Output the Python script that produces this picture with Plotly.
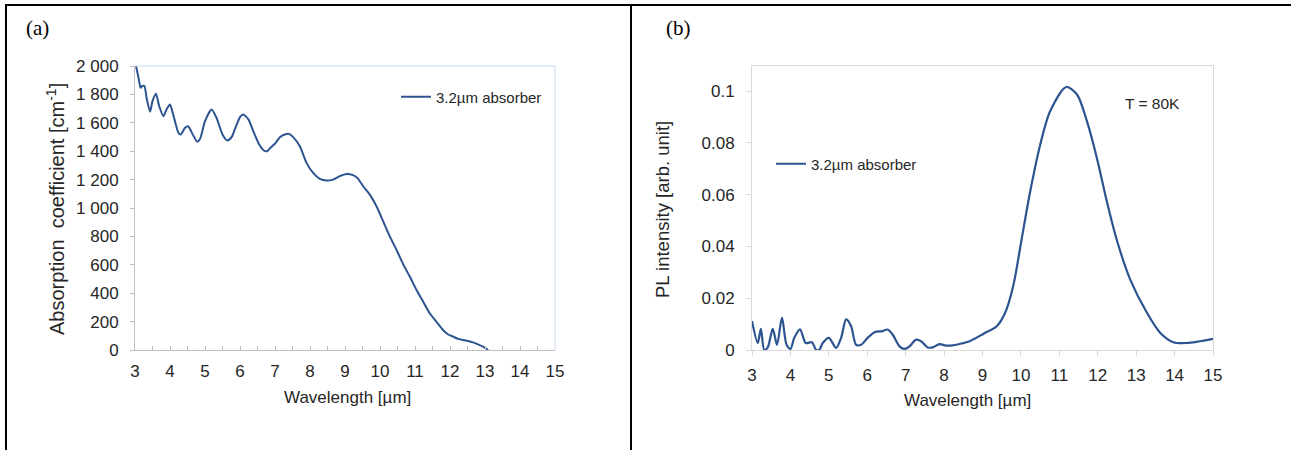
import plotly.graph_objects as go

# ---------------- data ----------------
abs_wavelength = [3.03, 3.10, 3.16, 3.21, 3.27, 3.33, 3.43, 3.50, 3.60, 3.69, 3.81, 3.90, 4.00, 4.09,
                  4.24, 4.31, 4.43, 4.52, 4.65, 4.78, 4.87, 5.00, 5.19, 5.33, 5.50, 5.64, 5.76, 5.85,
                  6.00, 6.09, 6.24, 6.38, 6.55, 6.68, 6.78, 6.87, 7.02, 7.14, 7.28, 7.40, 7.52, 7.71,
                  7.90, 8.09, 8.28, 8.47, 8.66, 8.85, 9.04, 9.23, 9.37, 9.52, 9.71, 9.90, 10.09, 10.28,
                  10.47, 10.66, 10.85, 11.04, 11.23, 11.42, 11.61, 11.80, 11.94, 12.09, 12.23, 12.37,
                  12.52, 12.66, 12.80, 12.94, 13.09]
abs_coefficient = [2000, 1918, 1847, 1859, 1859, 1776, 1678, 1753, 1805, 1718, 1647, 1694, 1729, 1659,
                   1529, 1518, 1565, 1576, 1518, 1466, 1494, 1612, 1694, 1635, 1518, 1475, 1499, 1553,
                   1640, 1659, 1624, 1541, 1447, 1405, 1400, 1424, 1459, 1499, 1518, 1522, 1499, 1435,
                   1318, 1247, 1205, 1193, 1200, 1224, 1240, 1231, 1207, 1153, 1094, 1012, 906, 800,
                   706, 605, 518, 424, 341, 259, 200, 141, 111, 94, 78, 71,
                   64, 54, 40, 24, 0]

pl_wavelength = [3.00, 3.15, 3.23, 3.32, 3.41, 3.54, 3.65, 3.78, 3.90, 4.00, 4.10, 4.25, 4.40, 4.56,
                 4.67, 4.75, 4.84, 5.00, 5.19, 5.32, 5.45, 5.58, 5.71, 5.84, 6.01, 6.19, 6.40, 6.53,
                 6.66, 6.84, 6.97, 7.10, 7.27, 7.40, 7.57, 7.70, 7.88, 8.05, 8.23, 8.45, 8.68, 9.03,
                 9.37, 9.59, 9.80, 10.02, 10.24, 10.50, 10.76, 11.18, 11.46, 11.72, 11.98, 12.24,
                 12.50, 12.84, 13.28, 13.63, 13.97, 14.32, 15.00]
pl_intensity = [0.0112, 0.0027, 0.0082, 0.0000, 0.0010, 0.0082, 0.0020, 0.0125, 0.0020, 0.0004,
                0.0047, 0.0080, 0.0027, 0.0030, 0.0000, 0.0000, 0.0027, 0.0047, 0.0008, 0.0047,
                0.0118, 0.0092, 0.0020, 0.0020, 0.0047, 0.0069, 0.0073, 0.0079, 0.0060, 0.0014,
                0.0004, 0.0014, 0.0040, 0.0034, 0.0010, 0.0010, 0.0023, 0.0017, 0.0018, 0.0025,
                0.0035, 0.0063, 0.0092, 0.0144, 0.0247, 0.0429, 0.0611, 0.0792, 0.0922, 0.1016,
                0.0987, 0.0883, 0.0740, 0.0572, 0.0423, 0.0274, 0.0144, 0.0066, 0.0030, 0.0027,
                0.0043]

x_ticks = list(range(3, 16))
abs_ticks = [0, 200, 400, 600, 800, 1000, 1200, 1400, 1600, 1800, 2000]
abs_tick_text = ["0", "200", "400", "600", "800", "1 000", "1 200", "1 400", "1 600", "1 800", "2 000"]
pl_ticks = [0, 0.02, 0.04, 0.06, 0.08, 0.1]
pl_tick_text = ["0", "0.02", "0.04", "0.06", "0.08", "0.1"]

series_name = "3.2µm absorber"

# ---------------- layout helpers (window pixels -> paper fractions) ----------------
W, H = 1291, 450
def px(x):
    return x / W
def py(y):
    return 1 - y / H

LINE = "#2c5491"
FONT = "Liberation Sans, Arial, sans-serif"
SERIF = "Liberation Serif, Times New Roman, serif"
GRAY = "#bfbfbf"
TXT = "#262626"

fig = go.Figure()
fig.add_trace(go.Scatter(x=abs_wavelength, y=abs_coefficient, mode="lines", name=series_name,
                         line=dict(color=LINE, width=2, shape="spline", smoothing=0.6),
                         xaxis="x", yaxis="y", legend="legend"))
fig.add_trace(go.Scatter(x=pl_wavelength, y=pl_intensity, mode="lines", name=series_name,
                         line=dict(color=LINE, width=2.2, shape="spline", smoothing=0.8),
                         xaxis="x2", yaxis="y2", legend="legend2"))

tickfont = dict(family=FONT, size=17, color=TXT)

fig.update_layout(
    width=W, height=H,
    margin=dict(l=0, r=0, t=0, b=0, autoexpand=False),
    paper_bgcolor="white", plot_bgcolor="white",
    showlegend=True,
    xaxis=dict(domain=[px(135), px(555)], range=[3, 15], tickvals=x_ticks, automargin=False,
               showgrid=False, zeroline=False, showline=True, linecolor=GRAY, linewidth=1,
               ticks="inside", ticklen=4, tickcolor=GRAY,
               minor=dict(dtick=0.5, ticks="inside", ticklen=4, tickcolor=GRAY),
               tickfont=tickfont, anchor="y", ticklabelstandoff=6),
    yaxis=dict(domain=[py(350), py(66)], range=[0, 2000], tickvals=abs_ticks, ticktext=abs_tick_text,
               automargin=False,
               showgrid=False, zeroline=False, showline=True, linecolor=GRAY, linewidth=1,
               ticks="outside", ticklen=4, tickcolor=GRAY, tickfont=tickfont, anchor="x",
               ticklabelstandoff=8),
    xaxis2=dict(domain=[px(752), px(1213)], range=[3, 15], tickvals=x_ticks, automargin=False,
                showgrid=False, zeroline=False, showline=True, mirror=True, linecolor="#d9d9d9",
                linewidth=1, ticks="outside", ticklen=5, tickcolor="#d9d9d9",
                tickfont=tickfont, anchor="y2", ticklabelstandoff=5),
    yaxis2=dict(domain=[py(350), py(66)], range=[0, 0.1097], tickvals=pl_ticks, ticktext=pl_tick_text,
                automargin=False,
                showgrid=False, zeroline=False, showline=True, mirror=True, linecolor="#d9d9d9",
                linewidth=1, ticks="outside", ticklen=5, tickcolor="#d9d9d9",
                tickfont=tickfont, anchor="x2", ticklabelstandoff=8),
    legend=dict(x=px(396), y=py(97), xanchor="left", yanchor="middle",
                bgcolor="rgba(0,0,0,0)", font=dict(family=FONT, size=15, color=TXT)),
    legend2=dict(x=px(771), y=py(164), xanchor="left", yanchor="middle",
                 bgcolor="rgba(0,0,0,0)", font=dict(family=FONT, size=15, color=TXT)),
)

# light-blue top/right frame of panel (a)
fig.add_shape(type="line", xref="x domain", yref="y domain", x0=0, x1=1, y0=1, y1=1,
              line=dict(color="#c6d9ee", width=1))
fig.add_shape(type="line", xref="x domain", yref="y domain", x0=1, x1=1, y0=0, y1=1,
              line=dict(color="#c6d9ee", width=1))

# table borders
border = dict(color="black", width=2)
fig.add_shape(type="line", xref="paper", yref="paper", x0=px(5), x1=1, y0=py(5), y1=py(5), line=border)
fig.add_shape(type="line", xref="paper", yref="paper", x0=px(6), x1=px(6), y0=0, y1=py(5), line=border)
fig.add_shape(type="line", xref="paper", yref="paper", x0=px(631), x1=px(631), y0=0, y1=py(5), line=border)

annotations = [
    dict(text="(a)", x=px(24), y=py(28), xanchor="left", yanchor="middle",
         font=dict(family=SERIF, size=21, color="black")),
    dict(text="(b)", x=px(664), y=py(28), xanchor="left", yanchor="middle",
         font=dict(family=SERIF, size=21, color="black")),
    dict(text="Absorption  coefficient [cm<sup>-1</sup>]", x=px(55), y=py(209), textangle=-90,
         xanchor="center", yanchor="middle", font=dict(family=FONT, size=20, color=TXT)),
    dict(text="PL intensity [arb. unit]", x=px(662), y=py(210), textangle=-90,
         xanchor="center", yanchor="middle", font=dict(family=FONT, size=18.5, color=TXT)),
    dict(text="Wavelength [µm]", x=px(347), y=py(397), xanchor="center", yanchor="middle",
         font=dict(family=FONT, size=17, color=TXT)),
    dict(text="Wavelength [µm]", x=px(967), y=py(400), xanchor="center", yanchor="middle",
         font=dict(family=FONT, size=17, color=TXT)),
    dict(text="T = 80K", x=px(1152), y=py(104), xanchor="center", yanchor="middle",
         font=dict(family=FONT, size=15.5, color=TXT)),
]
for a in annotations:
    fig.add_annotation(xref="paper", yref="paper", showarrow=False, **a)

fig.write_html("out.html", config={"displayModeBar": False},
               post_script="document.body.style.margin='0';document.body.style.overflow='hidden';")
